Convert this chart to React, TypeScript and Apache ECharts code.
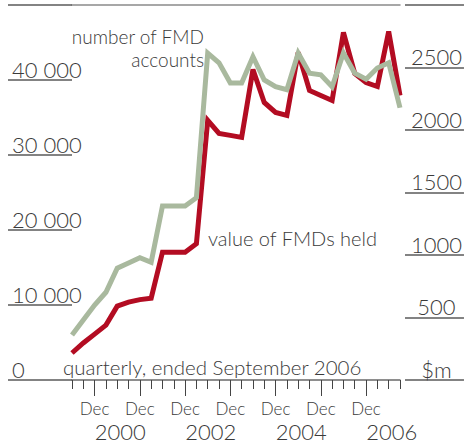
import React, { useEffect, useRef } from "react";
import * as echarts from "echarts";

const quarters = [
  "Jun 1999", "Sep 1999", "Dec 1999",
  "Mar 2000", "Jun 2000", "Sep 2000", "Dec 2000",
  "Mar 2001", "Jun 2001", "Sep 2001", "Dec 2001",
  "Mar 2002", "Jun 2002", "Sep 2002", "Dec 2002",
  "Mar 2003", "Jun 2003", "Sep 2003", "Dec 2003",
  "Mar 2004", "Jun 2004", "Sep 2004", "Dec 2004",
  "Mar 2005", "Jun 2005", "Sep 2005", "Dec 2005",
  "Mar 2006", "Jun 2006", "Sep 2006",
];

const yearLabels = ["2000", "2002", "2004", "2006"];

// number of FMD accounts (left axis)
const accounts = [
  6000, 8000, 10000, 11700, 14900, 15600, 16300, 15700, 23200, 23200,
  23200, 24300, 43600, 42300, 39600, 39600, 43100, 40000, 39100, 38700,
  43600, 40900, 40700, 39100, 43600, 40900, 40100, 41600, 42300, 36300,
];

// value of FMDs held, $m (right axis)
const valueHeld = [
  216, 296, 367, 439, 591, 623, 643, 655, 1022, 1022,
  1022, 1090, 2077, 1973, 1957, 1941, 2484, 2220, 2141, 2117,
  2620, 2316, 2276, 2236, 2780, 2452, 2380, 2348, 2788, 2276,
];

const leftTicks = { min: 0, max: 50000, interval: 10000 };
const rightTicks = { min: 0, max: 3000, interval: 500 };

const FONT = "Lato";
const TEXT = "#3a3a3a";
const RULE = "#5a5a5a";

export default function App() {
  const ref = useRef<HTMLDivElement>(null);

  useEffect(() => {
    if (!ref.current) return;
    const chart = echarts.init(ref.current, null, { renderer: "svg" });
    const isDec = (_i: number, v: string) => v.startsWith("Dec");
    const isYear = (_i: number, v: string) =>
      v.startsWith("Jun") && yearLabels.includes(v.slice(4));

    chart.setOption({
      animation: false,
      backgroundColor: "#ffffff",
      grid: { left: 72, right: 63.5, top: 5, bottom: 63, containLabel: false },
      xAxis: [
        {
          type: "category",
          data: quarters,
          boundaryGap: false,
          position: "bottom",
          axisLine: { show: true, lineStyle: { color: "#6a6a6a", width: 1.5 } },
          axisTick: { show: true, interval: 0, length: 9, lineStyle: { color: "#444", width: 1 } },
          axisLabel: { show: false },
          splitLine: { show: false },
        },
        {
          type: "category",
          data: quarters,
          boundaryGap: false,
          position: "bottom",
          axisLine: { show: false },
          axisTick: { show: true, interval: isDec, length: 16, lineStyle: { color: "#444", width: 1 } },
          axisLabel: {
            show: true,
            interval: isDec,
            formatter: (v: string) => v.slice(0, 3),
            fontFamily: FONT,
            fontWeight: 300,
            fontSize: 17,
            lineHeight: 14,
            color: TEXT,
            margin: 21,
          },
        },
        {
          type: "category",
          data: quarters,
          boundaryGap: false,
          position: "bottom",
          axisLine: { show: false },
          axisTick: { show: false },
          axisLabel: {
            show: true,
            interval: isYear,
            formatter: (v: string) => v.slice(4),
            fontFamily: FONT,
            fontWeight: 300,
            fontSize: 22,
            lineHeight: 20,
            color: TEXT,
            margin: 41,
            padding: [0, 0, 0, 6],
          },
        },
        {
          type: "category",
          data: quarters,
          boundaryGap: false,
          position: "top",
          axisLine: { show: true, lineStyle: { color: "#8a8a8a", width: 1.5 } },
          axisTick: { show: false },
          axisLabel: { show: false },
        },
      ],
      yAxis: [
        {
          type: "value",
          position: "left",
          ...leftTicks,
          axisLine: { show: false },
          axisTick: { show: true, length: 64, lineStyle: { color: RULE, width: 1.5 } },
          splitLine: { show: false },
          axisLabel: {
            show: true,
            align: "left",
            verticalAlign: "bottom",
            margin: 60,
            fontFamily: FONT,
            fontWeight: 300,
            fontSize: 22,
            lineHeight: 22,
            color: TEXT,
            formatter: (v: number) =>
              v === leftTicks.max ? "" : v === 0 ? "0" : `${v / 1000} 000`,
          },
        },
        {
          type: "value",
          position: "right",
          offset: 5,
          ...rightTicks,
          axisLine: { show: false },
          axisTick: { show: true, length: 59, lineStyle: { color: RULE, width: 1.5 } },
          splitLine: { show: false },
          axisLabel: {
            show: true,
            align: "center",
            verticalAlign: "bottom",
            margin: 31.5,
            fontFamily: FONT,
            fontWeight: 300,
            fontSize: 22,
            lineHeight: 22,
            color: TEXT,
            formatter: (v: number) =>
              v === rightTicks.max ? "" : v === 0 ? "$m" : String(v),
          },
        },
      ],
      series: [
        {
          name: "value of FMDs held",
          type: "line",
          xAxisIndex: 0,
          yAxisIndex: 1,
          data: valueHeld,
          showSymbol: false,
          symbol: "none",
          lineStyle: { color: "#b30c22", width: 5, join: "miter" },
        },
        {
          name: "number of FMD accounts",
          type: "line",
          xAxisIndex: 0,
          yAxisIndex: 0,
          data: accounts,
          showSymbol: false,
          symbol: "none",
          lineStyle: { color: "#a9b99e", width: 5, join: "miter" },
        },
      ],
      graphic: [
        {
          type: "text",
          x: 204,
          y: 48,
          style: {
            text: "number of FMD\naccounts",
            fill: TEXT,
            font: `300 19px ${FONT}`,
            lineHeight: 23,
            align: "right",
            verticalAlign: "middle",
          },
        },
        {
          type: "text",
          x: 208,
          y: 238,
          style: {
            text: "value of FMDs held",
            fill: TEXT,
            font: `300 20px ${FONT}`,
            verticalAlign: "middle",
          },
        },
        {
          type: "text",
          x: 63,
          y: 367,
          style: {
            text: "quarterly, ended September 2006",
            fill: TEXT,
            font: `300 20.5px ${FONT}`,
            verticalAlign: "middle",
          },
        },
      ],
    });
    return () => chart.dispose();
  }, []);

  return (
    <div
      ref={ref}
      style={{ position: "fixed", left: 0, top: 0, width: 465, height: 443 }}
    />
  );
}
